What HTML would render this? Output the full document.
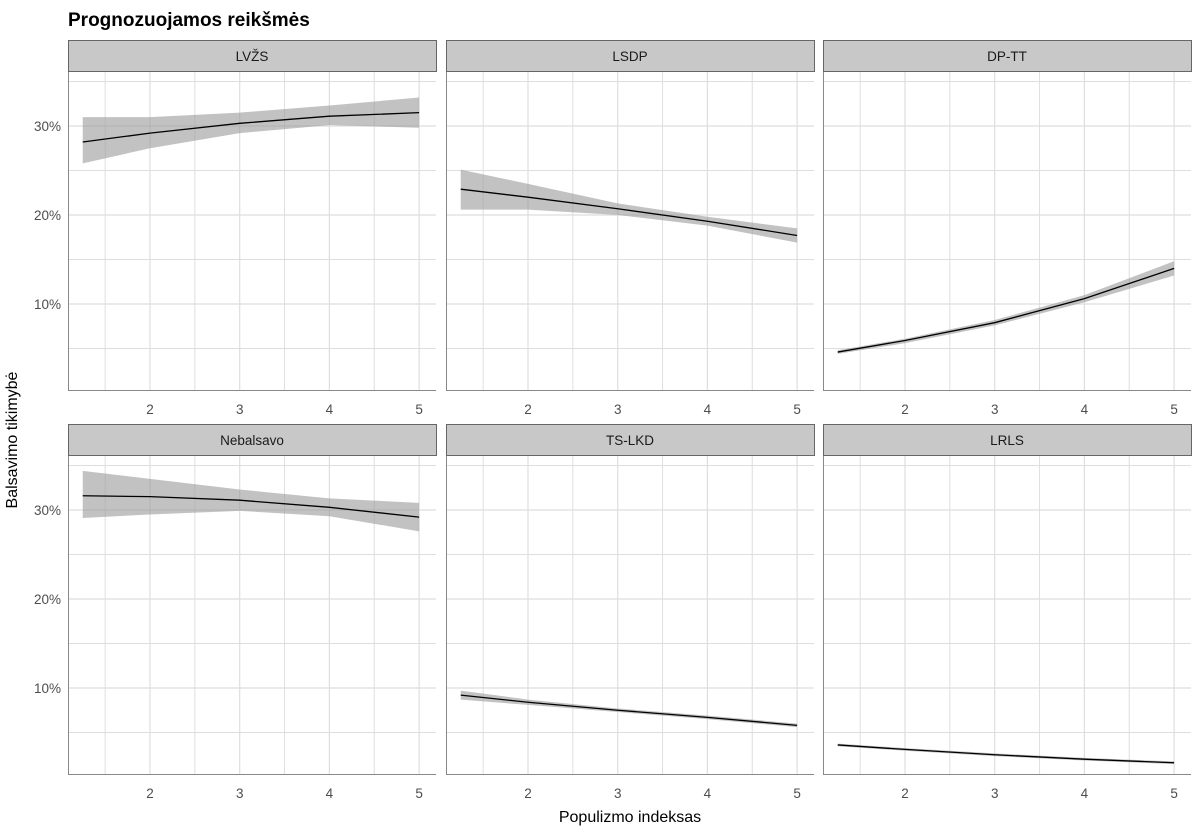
<!DOCTYPE html>
<html><head><meta charset="utf-8"><style>
body{margin:0;background:#fff}
svg{display:block;font-family:"Liberation Sans",sans-serif}
</style></head><body>
<svg id="s" width="1202" height="833" xmlns="http://www.w3.org/2000/svg"></svg>
<script>
const s=document.getElementById('s');let h='';
h+='<rect width="1202" height="833" fill="#fff"/>';
h+='<text x="68" y="26" font-size="19" font-weight="bold" fill="#000">Prognozuojamos reikšmės</text>';
const cols=[68,446,823],rows=[72,456],W=368,H=318;
const P=[
 ["LVŽS",[28.2,29.2,30.3,31.1,31.5],[25.8,27.5,29.2,30.1,29.8],[31.0,31.0,31.5,32.3,33.2]],
 ["LSDP",[22.9,22.0,20.7,19.3,17.7],[20.6,20.6,20.0,18.8,16.9],[25.1,23.5,21.3,19.8,18.5]],
 ["DP-TT",[4.6,5.9,7.9,10.6,14.0],[4.4,5.6,7.6,10.2,13.2],[4.8,6.1,8.2,11.0,14.8]],
 ["Nebalsavo",[31.6,31.5,31.1,30.3,29.2],[29.1,29.5,29.9,29.3,27.6],[34.4,33.5,32.3,31.3,30.8]],
 ["TS-LKD",[9.2,8.4,7.5,6.7,5.8],[8.7,8.1,7.3,6.5,5.6],[9.7,8.7,7.7,6.9,6.0]],
 ["LRLS",[3.6,3.1,2.5,2.0,1.6],[3.45,2.95,2.35,1.85,1.45],[3.75,3.25,2.65,2.15,1.75]]];
const xs=[1.25,2,3,4,5];
P.forEach((p,i)=>{
 const c=i%3,r=Math.floor(i/3),X0=cols[c],Y0=rows[r];
 const X=v=>X0+82+(v-2)*89.7, Y=v=>Y0+54+(30-v)*8.9;
 h+=`<rect x="${X0+0.5}" y="${Y0-31.5}" width="${W}" height="31" fill="#c8c8c8" stroke="#666" stroke-width="1"/>`;
 h+=`<text x="${X0+W/2}" y="${Y0-11}" font-size="13.5" text-anchor="middle" fill="#1a1a1a">${p[0]}</text>`;
 for(let v=1.5;v<=5;v+=0.5){const g=X(v);h+=`<line x1="${g}" y1="${Y0}" x2="${g}" y2="${Y0+H}" stroke="#dedede" stroke-width="${v%1?1:1.2}"/>`;}
 for(let v=5;v<=35;v+=5){const g=Y(v);h+=`<line x1="${X0}" y1="${g}" x2="${X0+W}" y2="${g}" stroke="#dedede" stroke-width="${v%10?1:1.2}"/>`;}
 let pts=xs.map((x,k)=>X(x)+','+Y(p[3][k])).concat(xs.map((x,k)=>X(x)+','+Y(p[2][k])).reverse());
 h+=`<polygon points="${pts.join(' ')}" fill="#999" fill-opacity="0.6"/>`;
 h+=`<polyline points="${xs.map((x,k)=>X(x)+','+Y(p[1][k])).join(' ')}" fill="none" stroke="#000" stroke-width="1.3"/>`;
 h+=`<line x1="${X0+0.5}" y1="${Y0}" x2="${X0+0.5}" y2="${Y0+H}" stroke="#888"/>`;
 h+=`<line x1="${X0}" y1="${Y0+H+0.5}" x2="${X0+W}" y2="${Y0+H+0.5}" stroke="#888"/>`;
 for(let v=2;v<=5;v++)h+=`<text x="${X(v)}" y="${Y0+H+24}" font-size="13.5" text-anchor="middle" fill="#4d4d4d">${v}</text>`;
 if(c==0)for(let v=10;v<=30;v+=10)h+=`<text x="61" y="${Y(v)+5}" font-size="13.5" text-anchor="end" fill="#4d4d4d">${v}%</text>`;
});
h+='<text x="630" y="822" font-size="16" text-anchor="middle" fill="#000">Populizmo indeksas</text>';
h+='<text transform="translate(17,440) rotate(-90)" font-size="16" text-anchor="middle" fill="#000">Balsavimo tikimybė</text>';
s.innerHTML=h;
</script>
</body></html>
